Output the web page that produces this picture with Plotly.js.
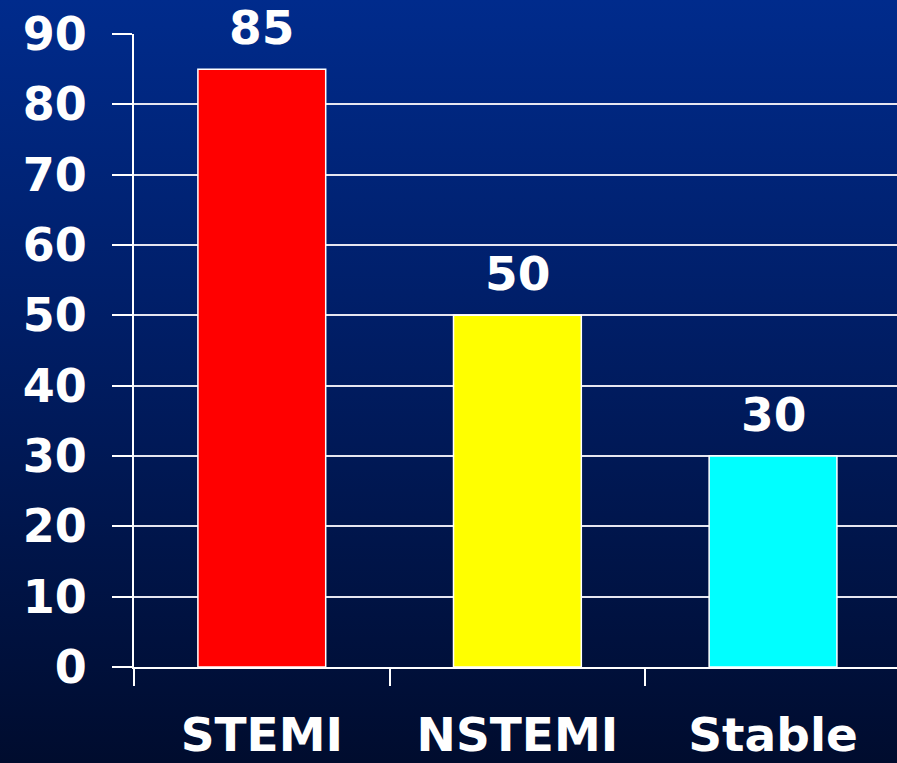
<!DOCTYPE html>
<html>
<head>
<meta charset="utf-8">
<script src="https://cdn.plot.ly/plotly-3.0.1.min.js"></script>
<style>
  html, body { margin: 0; padding: 0; }
  #chart {
    width: 897px; height: 763px;
    background: linear-gradient(to bottom, #002b8c 0%, #001d64 45%, #000c2e 100%);
  }
</style>
</head>
<body>
<div id="chart"></div>
<script>
// Categories and their values
const categories = ["STEMI", "NSTEMI", "Stable"];
const values = [85, 50, 30];
const barColors = ["#ff0000", "#ffff00", "#00ffff"];
const yTickValues = [0, 10, 20, 30, 40, 50, 60, 70, 80, 90];

const font = "DejaVu Sans, Verdana, sans-serif";

const trace = {
  type: "bar",
  x: categories,
  y: values,
  width: 0.5,
  marker: {
    color: barColors,
    line: { color: "#ffffff", width: 1.5 }
  },
  hoverinfo: "none"
};

// value labels above the bars
const annotations = categories.map((c, i) => ({
  x: c,
  y: values[i],
  xref: "x",
  yref: "y",
  text: String(values[i]),
  showarrow: false,
  yanchor: "bottom",
  yshift: 12,
  font: { family: font, size: 47, color: "#ffffff", weight: "bold" }
}));

const layout = {
  width: 897,
  height: 763,
  margin: { l: 134, r: 0, t: 34, b: 96 },
  paper_bgcolor: "rgba(0,0,0,0)",
  plot_bgcolor: "rgba(0,0,0,0)",
  showlegend: false,
  annotations: annotations,
  xaxis: {
    type: "category",
    range: [-0.5, 2.485],
    tickson: "boundaries",
    ticks: "outside",
    ticklen: 17,
    tickwidth: 2,
    tickcolor: "#ffffff",
    showline: true,
    linecolor: "#ffffff",
    linewidth: 2,
    showgrid: false,
    ticklabelstandoff: 26,
    tickfont: { family: font, size: 47, color: "#ffffff", weight: "bold" },
    fixedrange: true
  },
  yaxis: {
    range: [0, 90],
    tickvals: yTickValues,
    ticks: "outside",
    ticklen: 20,
    tickwidth: 2,
    tickcolor: "#ffffff",
    showline: true,
    linecolor: "#ffffff",
    linewidth: 2,
    showgrid: true,
    gridcolor: "#e6e6f0",
    gridwidth: 1.8,
    zeroline: false,
    ticklabelstandoff: 16,
    tickfont: { family: font, size: 46, color: "#ffffff", weight: "bold" },
    fixedrange: true
  }
};

Plotly.newPlot("chart", [trace], layout, { displayModeBar: false, staticPlot: true });
</script>
</body>
</html>
